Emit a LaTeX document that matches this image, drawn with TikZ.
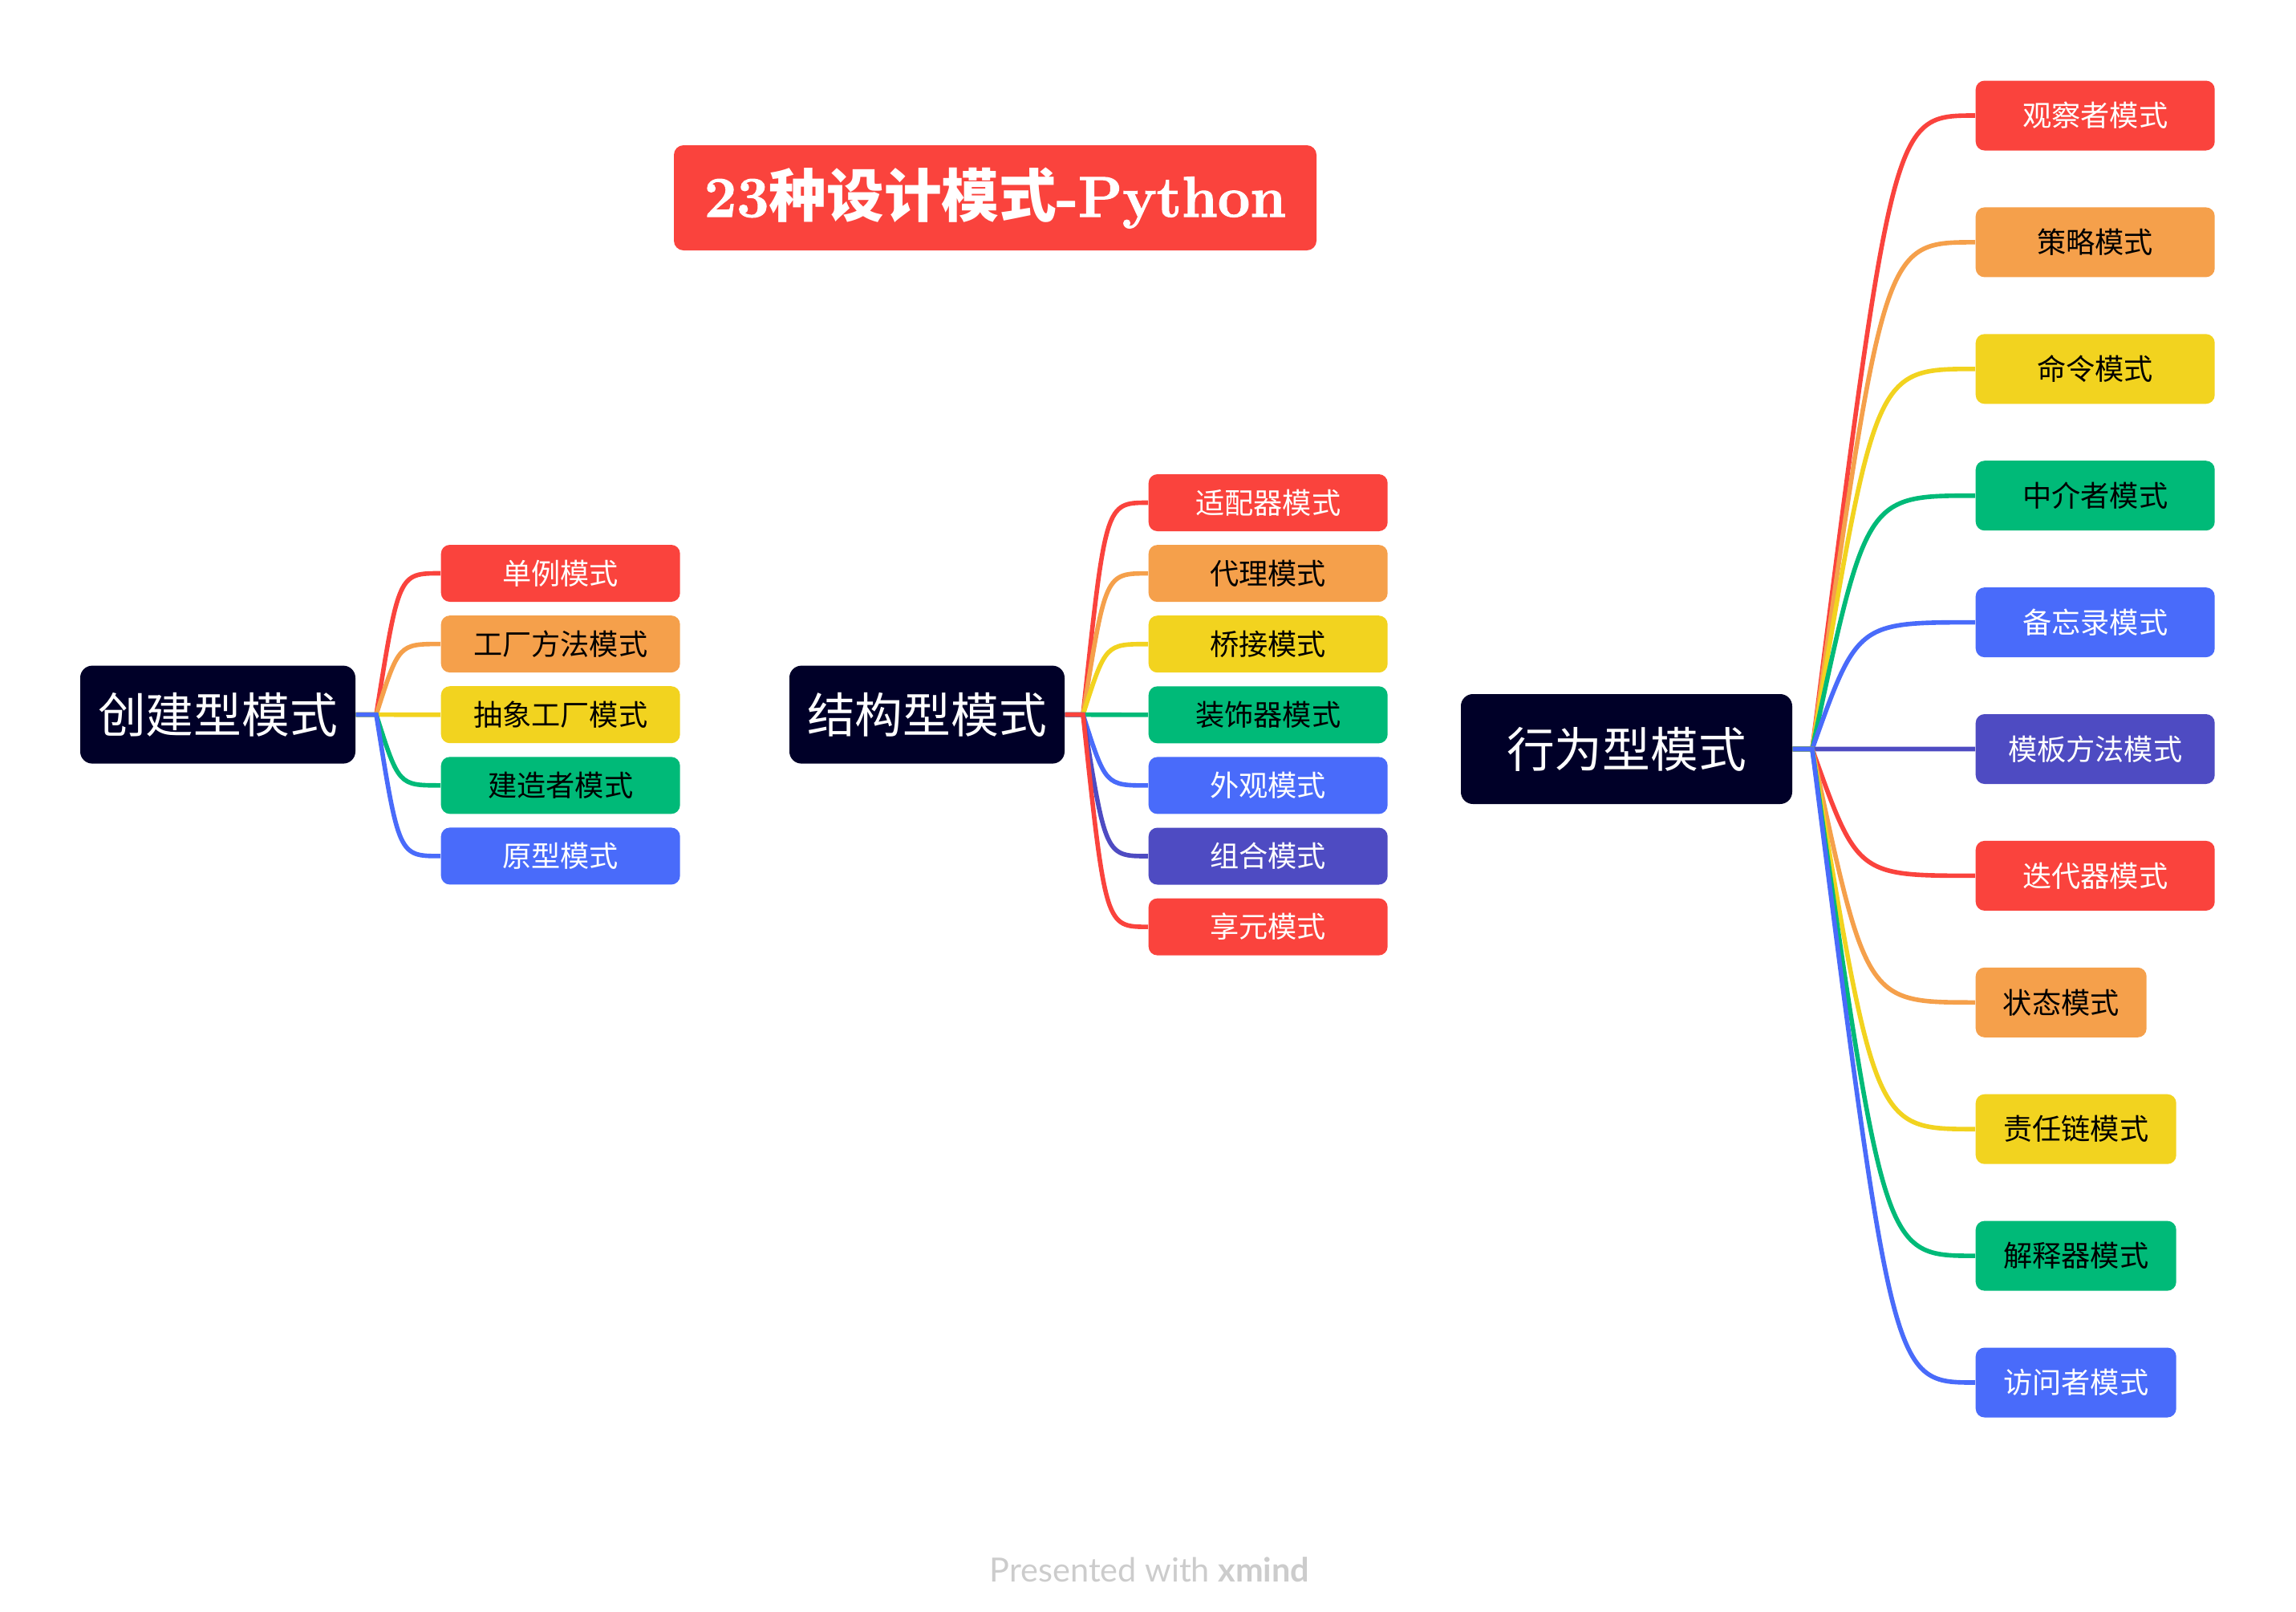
\documentclass[tikz,border=0pt]{standalone}
\usepackage{fontspec}
\newfontfamily\cjk{Noto Sans CJK SC}
\newfontfamily\titolofont{Latin Modern Roman}[FakeBold=1.6]
\newfontfamily\firmafont{Lato}
\usetikzlibrary{calc}

\definecolor{xrosso}{HTML}{FA433D}
\definecolor{xarancio}{HTML}{F5A04B}
\definecolor{xgiallo}{HTML}{F2D31F}
\definecolor{xverde}{HTML}{00BA78}
\definecolor{xblu}{HTML}{496BFA}
\definecolor{xviola}{HTML}{4E4BC2}
\definecolor{xnotte}{HTML}{000028}
\definecolor{xgrigio}{HTML}{CCCCCC}

\tikzset{
  titolo/.style={fill=xrosso, text=white, rounded corners=0.12cm, minimum width=8.01cm, minimum height=1.31cm, inner sep=0pt},
  radice/.style={fill=xnotte, text=white, rounded corners=0.15cm, minimum height=1.22cm, inner sep=0pt, font=\cjk\fontsize{17}{20}\selectfont},
  foglia/.style={rounded corners=0.11cm, minimum height=0.71cm, inner sep=0pt, anchor=west, font=\cjk\fontsize{10.3}{12}\selectfont},
  ramo/.style={line width=1.6pt}
}

\begin{document}
\begin{tikzpicture}
    \useasboundingbox (0,0) rectangle (28.62,-20.08);

    % Titolo
    \node[titolo] (titolo) at (12.405,-2.465) {\titolofont\fontsize{20.4}{23}\selectfont\bfseries 23{\cjk 种设计模式}-Python};

    % Nodi radice
    \node[radice, minimum width=3.43cm] (crea) at (2.715,-8.906) {创建型模式};
    \node[radice, minimum width=3.43cm] (strut) at (11.555,-8.906) {结构型模式};
    \node[radice, minimum width=4.13cm, minimum height=1.37cm] (compo) at (20.275,-9.335) {行为型模式};

    % Punti di diramazione
    \coordinate (jc) at (4.69,-8.906);
    \coordinate (kc) at (4.97,-8.906);
    \coordinate (js) at (13.50,-8.906);
    \coordinate (ks) at (13.78,-8.906);
    \coordinate (jb) at (22.59,-9.335);

    % Creazionali
    \foreach \testo/\col/\tcol [count=\i] in {单例模式/xrosso/white, 工厂方法模式/xarancio/black, 抽象工厂模式/xgiallo/black, 建造者模式/xverde/black, 原型模式/xblu/white} {
        \node[foglia, minimum width=2.98cm, fill=\col, text=\tcol] (c\i) at (5.49,{-7.145-(\i-1)*0.881}) {\testo};
        \draw[ramo, \col] (crea.east) -- (jc) .. controls (kc |- c\i.west) .. (c\i.west);
    }

    % Strutturali
    \foreach \testo/\col/\tcol [count=\i] in {适配器模式/xrosso/white, 代理模式/xarancio/black, 桥接模式/xgiallo/black, 装饰器模式/xverde/black, 外观模式/xblu/white, 组合模式/xviola/white, 享元模式/xrosso/white} {
        \node[foglia, minimum width=2.98cm, fill=\col, text=\tcol] (s\i) at (14.31,{-6.265-(\i-1)*0.881}) {\testo};
        \draw[ramo, \col] (strut.east) -- (js) .. controls (ks |- s\i.west) .. (s\i.west);
    }

    % Comportamentali
    \foreach \testo/\col/\tcol/\larg [count=\i] in {观察者模式/xrosso/white/2.98, 策略模式/xarancio/black/2.98, 命令模式/xgiallo/black/2.98, 中介者模式/xverde/black/2.98, 备忘录模式/xblu/white/2.98, 模板方法模式/xviola/white/2.98, 迭代器模式/xrosso/white/2.98, 状态模式/xarancio/black/2.13, 责任链模式/xgiallo/black/2.50, 解释器模式/xverde/black/2.50, 访问者模式/xblu/white/2.50} {
        \pgfmathsetmacro\sposta{0.45+0.07*abs(\i-6)*1.579}
        \node[foglia, minimum width=\larg cm, minimum height=0.87cm, fill=\col, text=\tcol] (b\i) at (24.62,{-1.44-(\i-1)*1.579}) {\testo};
        \draw[ramo, \col] (compo.east) -- (jb) .. controls ($(jb |- b\i.west)+(\sposta,0)$) .. (b\i.west);
    }

    % Firma
    \node[text=xgrigio, font=\firmafont\fontsize{11.8}{14}\selectfont] (firma) at (14.33,-19.56) {Presented with \textbf{xmind}};
\end{tikzpicture}
\end{document}
